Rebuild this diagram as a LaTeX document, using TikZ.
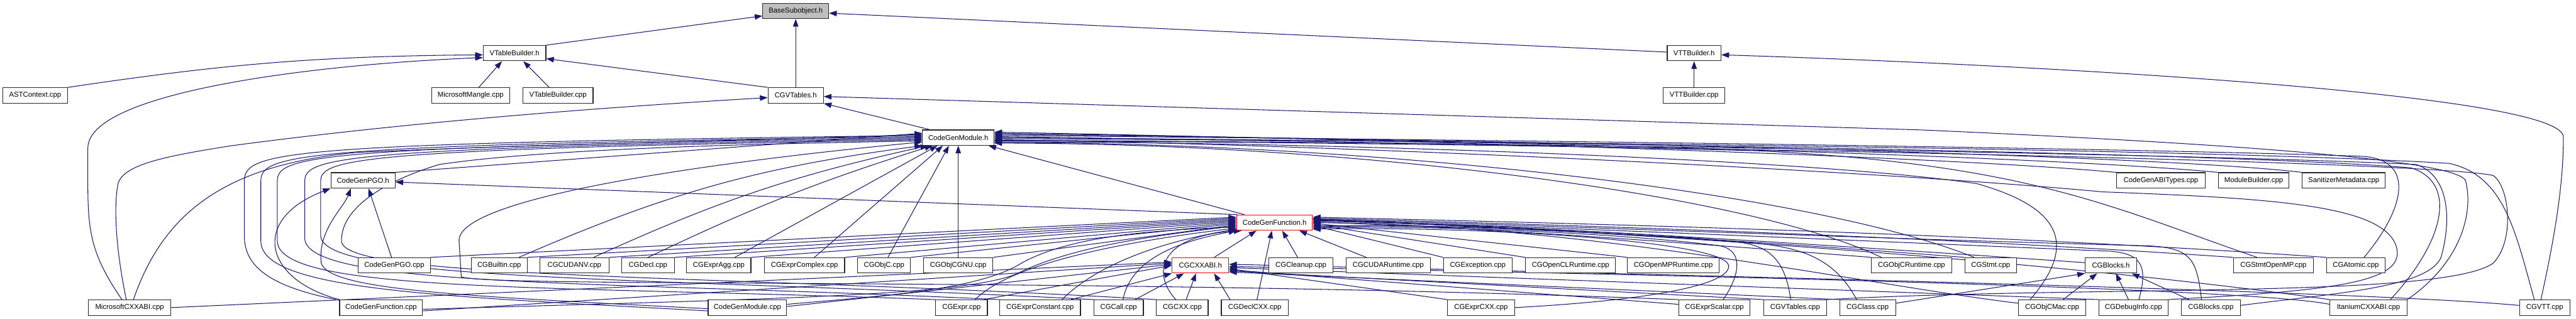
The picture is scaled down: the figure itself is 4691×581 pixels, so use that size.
\documentclass[tikz,border=0pt]{standalone}
\usepackage{fontspec}
\setmainfont{Liberation Sans}
\newfontfamily\doxfont{Liberation Sans}
\usetikzlibrary{arrows.meta,backgrounds}
\definecolor{edgec}{HTML}{191970}
\definecolor{redc}{HTML}{FF0000}
\definecolor{grayc}{HTML}{BFBFBF}
\definecolor{boxc}{HTML}{262626}
\begin{document}
\begin{tikzpicture}[x=1pt,y=-1pt,
  box/.style={draw=boxc,line width=1.3pt,fill=white,minimum height=28,inner sep=1pt,font=\doxfont\fontsize{13}{15}\selectfont},
  rbox/.style={box,draw=redc},
  e/.style={draw=edgec,line width=1.2pt,-{Triangle[length=14pt,width=10pt]}}]
\useasboundingbox (0,0) rectangle (4691,581);
% ---------- nodes
\node[box,fill=grayc,minimum width=120] (bso) at (1449,20) {BaseSubobject.h};
\node[box,minimum width=114] (vtbh) at (937,97) {VTableBuilder.h};
\node[box,minimum width=98] (vttbh) at (3085,97) {VTTBuilder.h};
\node[box,minimum width=118] (astctx) at (64,174) {ASTContext.cpp};
\node[box,minimum width=142] (msmangle) at (857,174) {MicrosoftMangle.cpp};
\node[box,minimum width=128] (vtbcpp) at (1016,174) {VTableBuilder.cpp};
\node[box,minimum width=101] (cgvth) at (1449,174) {CGVTables.h};
\node[box,minimum width=112] (vttcpp) at (3085,174) {VTTBuilder.cpp};
\node[box,minimum width=130] (cgmh) at (1745,251) {CodeGenModule.h};
\node[box,minimum width=117] (pgoh) at (661,329) {CodeGenPGO.h};
\node[box,minimum width=161] (abitypes) at (3935,329) {CodeGenABITypes.cpp};
\node[box,minimum width=129] (modb) at (4104,329) {ModuleBuilder.cpp};
\node[box,minimum width=151] (sanmeta) at (4268,329) {SanitizerMetadata.cpp};
\node[rbox,minimum width=138] (cgfh) at (2321,406) {CodeGenFunction.h};
% row G
\node[box,minimum width=131] (pgocpp) at (718,484) {CodeGenPGO.cpp};
\node[box,minimum width=102] (builtin) at (909,484) {CGBuiltin.cpp};
\node[box,minimum width=126] (cudanv) at (1046,484) {CGCUDANV.cpp};
\node[box,minimum width=96] (decl) at (1180,484) {CGDecl.cpp};
\node[box,minimum width=117] (expragg) at (1309,484) {CGExprAgg.cpp};
\node[box,minimum width=146] (exprcplx) at (1465,484) {CGExprComplex.cpp};
\node[box,minimum width=96] (objc) at (1610,484) {CGObjC.cpp};
\node[box,minimum width=126] (objcgnu) at (1745,484) {CGObjCGNU.cpp};
\node[rbox,minimum width=103] (cxxabih) at (2186,484) {CGCXXABI.h};
\node[box,minimum width=116] (cleanup) at (2369,484) {CGCleanup.cpp};
\node[box,minimum width=154] (cudart) at (2528,484) {CGCUDARuntime.cpp};
\node[box,minimum width=125] (except) at (2691,484) {CGException.cpp};
\node[box,minimum width=164] (openclrt) at (2860,484) {CGOpenCLRuntime.cpp};
\node[box,minimum width=167] (openmprt) at (3047,484) {CGOpenMPRuntime.cpp};
\node[box,minimum width=146] (objcrt) at (3481,484) {CGObjCRuntime.cpp};
\node[box,minimum width=94] (stmt) at (3625,484) {CGStmt.cpp};
\node[box,minimum width=93] (blocksh) at (3844,484) {CGBlocks.h};
\node[box,minimum width=146] (stmtomp) at (4140,484) {CGStmtOpenMP.cpp};
\node[box,minimum width=107] (atomic) at (4290,484) {CGAtomic.cpp};
% row H
\node[box,minimum width=150] (mscxx) at (236,561) {MicrosoftCXXABI.cpp};
\node[box,minimum width=151] (cgfcpp) at (694,561) {CodeGenFunction.cpp};
\node[box,minimum width=143] (cgmcpp) at (1361,561) {CodeGenModule.cpp};
\node[box,minimum width=94] (expr) at (1751,561) {CGExpr.cpp};
\node[box,minimum width=147] (exprconst) at (1894,561) {CGExprConstant.cpp};
\node[box,minimum width=90] (call) at (2037,561) {CGCall.cpp};
\node[box,minimum width=94] (cxx) at (2153,561) {CGCXX.cpp};
\node[box,minimum width=122] (declcxx) at (2285,561) {CGDeclCXX.cpp};
\node[box,minimum width=122] (exprcxx) at (2697,561) {CGExprCXX.cpp};
\node[box,minimum width=130] (exprscalar) at (3122,561) {CGExprScalar.cpp};
\node[box,minimum width=114] (vtcpp) at (3269,561) {CGVTables.cpp};
\node[box,minimum width=102] (cgclass) at (3401,561) {CGClass.cpp};
\node[box,minimum width=123] (objcmac) at (3737,561) {CGObjCMac.cpp};
\node[box,minimum width=126] (debuginfo) at (3885,561) {CGDebugInfo.cpp};
\node[box,minimum width=107] (blockscpp) at (4026,561) {CGBlocks.cpp};
\node[box,minimum width=140] (itanium) at (4313,561) {ItaniumCXXABI.cpp};
\node[box,minimum width=92] (vtt) at (4634,561) {CGVTT.cpp};
% ---------- edges
\begin{pgfonlayer}{background}
\fill[white] (0,0) rectangle (4691,581);
% top part
\draw[e] (vtbh.north east) -- ([yshift=-9]bso.west);
\draw[e] (cgvth.north) -- (bso.south);
\draw[e] ([yshift=2]vttbh.west) -- ([yshift=-4]bso.east);
\draw[e] (astctx.north east) to[bend left=4] ([yshift=-3]vtbh.west);
\draw[e] ([xshift=-14]mscxx.north) .. controls (170,470) and (160,430) .. (160,340) -- (160,270) .. controls (160,170) and (560,118) .. ([yshift=-8]vtbh.west);
\draw[e] ([xshift=15]msmangle.north) -- ([xshift=-23]vtbh.south);
\draw[e] ([xshift=-16]vtbcpp.north) -- ([xshift=16]vtbh.south);
\draw[e] (cgvth.north west) -- ([yshift=-10]vtbh.east);
\draw[e] ([xshift=-6]mscxx.north) .. controls (212,460) and (206,380) .. (215,335) .. controls (225,300) and (300,285) .. (420,266) .. controls (800,215) and (1200,190) .. ([yshift=-4]cgvth.west);
\draw[e] ([xshift=-52]cgmh.north) -- (cgvth.south east);
\draw[e] (itanium.north east) .. controls (4480,480) and (4505,390) .. (4490,330) .. controls (4475,285) and (3900,255) .. (3500,237) -- ([yshift=-2]cgvth.east);
\draw[e] (vttcpp.north) -- (vttbh.south);
\draw[e] ([xshift=-7]vtt.north) .. controls (4655,420) and (4668,330) .. (4668,250) .. controls (4668,170) and (3700,118) .. ([yshift=-3]vttbh.east);
% into CodeGenModule.h, left side
\draw[e] (pgoh.north east) -- ([yshift=8]cgmh.west);
\draw[e] ([xshift=7]mscxx.north) .. controls (300,380) and (420,300) .. (650,278) .. controls (1000,262) and (1400,256) .. ([yshift=6]cgmh.west);
\draw[e] ([xshift=-82]cgfcpp.north) .. controls (480,520) and (445,480) .. (445,430) -- (445,330) .. controls (445,275) and (520,262) .. ([yshift=4]cgmh.west);
\draw[e] ([yshift=-6]cgmcpp.west) .. controls (800,540) and (476,530) .. (475,440) -- (475,330) .. controls (475,280) and (550,265) .. ([yshift=2]cgmh.west);
\draw[e] (expr.north west) .. controls (1000,520) and (508,535) .. (505,440) -- (505,330) .. controls (505,283) and (580,268) .. (cgmh.west);
\draw[e] (exprconst.north west) .. controls (1100,512) and (558,525) .. (555,435) -- (555,330) .. controls (555,286) and (630,270) .. ([yshift=-2]cgmh.west);
\draw[e] (call.north west) .. controls (1200,505) and (586,515) .. (584,430) -- (584,330) .. controls (584,289) and (660,272) .. ([yshift=-4]cgmh.west);
\draw[e] (cxx.north west) .. controls (1300,500) and (625,510) .. (622,440) .. controls (620,380) and (700,330) .. (800,300) .. controls (1000,270) and (1400,262) .. ([yshift=-6]cgmh.west);
\draw[e] (exprscalar.north west) .. controls (2000,505) and (900,525) .. (840,505) -- (836,440) .. controls (830,360) and (1300,295) .. ([yshift=-8]cgmh.west);
% into CodeGenModule.h, bottom
\draw[e] ([xshift=36]builtin.north) to[bend left=8] (cgmh.south west);
\draw[e] ([xshift=35]cudanv.north) to[bend left=6] ([xshift=-55]cgmh.south);
\draw[e] (decl.north) to[bend left=4] ([xshift=-47]cgmh.south);
\draw[e] ([xshift=29]expragg.north) -- ([xshift=-38]cgmh.south);
\draw[e] ([xshift=18]exprcplx.north) -- ([xshift=-28]cgmh.south);
\draw[e] ([xshift=7]objc.north) -- ([xshift=-17]cgmh.south);
\draw[e] (objcgnu.north) -- (cgmh.south);
\draw[e] ([xshift=-55]cgfh.north) -- ([xshift=55]cgmh.south);
% into CodeGenModule.h, right side
\draw[e] (abitypes.north west) .. controls (3500,282) and (2500,254) .. ([yshift=10]cgmh.east);
\draw[e] (modb.north west) .. controls (3700,282) and (2600,254) .. ([yshift=8]cgmh.east);
\draw[e] (sanmeta.north west) .. controls (3900,280) and (2700,254) .. ([yshift=6]cgmh.east);
\draw[e] ([xshift=15]atomic.north) .. controls (4380,380) and (4400,290) .. (4300,285) .. controls (3800,268) and (2600,254) .. ([yshift=4]cgmh.east);
\draw[e] ([xshift=-30]stmtomp.north) .. controls (3850,380) and (3700,300) .. (3200,275) .. controls (2700,262) and (2200,255) .. ([yshift=2]cgmh.east);
\draw[e] ([xshift=40]itanium.north) .. controls (4460,430) and (4470,330) .. (4390,306) .. controls (4000,275) and (2600,256) .. (cgmh.east);
\draw[e] ([xshift=-19]vtt.north) .. controls (4580,420) and (4560,320) .. (4460,298) .. controls (4000,270) and (2600,256) .. ([yshift=-2]cgmh.east);
\draw[e] (debuginfo.north east) .. controls (4250,530) and (4375,515) .. (4365,455) .. controls (4350,375) and (4150,362) .. (3830,350) .. controls (3400,310) and (2400,262) .. ([yshift=-4]cgmh.east);
\draw[e] ([yshift=4]blockscpp.east) .. controls (4250,535) and (4420,525) .. (4445,470) .. controls (4465,400) and (4460,320) .. (4400,300) .. controls (4000,280) and (2600,258) .. ([yshift=-5]cgmh.east);
\draw[e] (vtcpp.north east) .. controls (3800,520) and (4450,545) .. (4540,480) .. controls (4580,440) and (4570,340) .. (4540,320) .. controls (4400,290) and (2600,258) .. ([yshift=-6]cgmh.east);
\draw[e] ([xshift=-40]objcmac.north) .. controls (3780,450) and (3760,380) .. (3600,335) .. controls (3300,290) and (2400,258) .. ([yshift=-8]cgmh.east);
\draw[e] ([xshift=-30]stmt.north) .. controls (3300,350) and (2500,260) .. ([yshift=-9]cgmh.east);
\draw[e] ([xshift=-55]objcrt.north) .. controls (3200,360) and (2500,262) .. ([yshift=-10]cgmh.east);
% into CodeGenPGO.h
\draw[e] ([xshift=-5]pgocpp.north) -- ([xshift=10]pgoh.south);
\draw[e] ([xshift=-68]cgfh.north) -- ([yshift=-3]pgoh.east);
\draw[e] ([xshift=-76]cgfcpp.north) .. controls (480,510) and (455,400) .. (pgoh.south west);
\draw[e] ([yshift=-2]cgmcpp.west) .. controls (850,540) and (600,530) .. (585,480) .. controls (578,420) and (625,380) .. ([xshift=-22]pgoh.south);
% into CodeGenFunction.h, left side
\draw[e] (pgocpp.north east) -- ([yshift=10]cgfh.west);
\draw[e] (builtin.north east) -- ([yshift=8]cgfh.west);
\draw[e] (cudanv.north east) -- ([yshift=6]cgfh.west);
\draw[e] (decl.north east) -- ([yshift=4]cgfh.west);
\draw[e] (expragg.north east) -- ([yshift=2]cgfh.west);
\draw[e] (exprcplx.north east) -- (cgfh.west);
\draw[e] (objc.north east) -- ([yshift=-2]cgfh.west);
\draw[e] (objcgnu.north east) -- ([yshift=-4]cgfh.west);
\draw[e] ([yshift=-3]cgfcpp.east) .. controls (1400,545) and (1750,540) .. (1850,500) .. controls (1950,450) and (2100,430) .. ([yshift=-6]cgfh.west);
\draw[e] ([yshift=6]cgmcpp.east) .. controls (1600,540) and (1780,530) .. (1860,480) .. controls (1950,430) and (2100,420) .. ([yshift=-8]cgfh.west);
\draw[e] ([xshift=25]expr.north) .. controls (1840,480) and (2050,440) .. ([yshift=-10]cgfh.west);
\draw[e] ([xshift=40]exprconst.north) .. controls (2000,480) and (2120,440) .. ([yshift=-12]cgfh.west);
\draw[e] ([xshift=8]call.north) .. controls (2060,470) and (2150,440) .. (cgfh.south west);
\draw[e] ([xshift=-12]cxx.north) .. controls (2095,495) and (2115,430) .. ([xshift=-60]cgfh.south);
% into CodeGenFunction.h, bottom
\draw[e] ([xshift=4]declcxx.north) -- ([xshift=-5]cgfh.south);
\draw[e] ([xshift=25]cxxabih.north) -- ([xshift=-33]cgfh.south);
\draw[e] ([xshift=-6]cleanup.north) -- ([xshift=14]cgfh.south);
\draw[e] ([xshift=-40]cudart.north) -- ([xshift=45]cgfh.south);
% into CodeGenFunction.h, right side
\draw[e] (except.north west) -- ([yshift=-5]cgfh.east);
\draw[e] (openclrt.north west) -- ([yshift=-3]cgfh.east);
\draw[e] (openmprt.north west) -- ([yshift=-1]cgfh.east);
\draw[e] (objcrt.north west) .. controls (3100,445) and (2700,415) .. ([yshift=1]cgfh.east);
\draw[e] (stmt.north west) .. controls (3200,440) and (2750,412) .. ([yshift=3]cgfh.east);
\draw[e] ([yshift=5]blocksh.west) .. controls (3300,445) and (2800,412) .. ([yshift=5]cgfh.east);
\draw[e] (stmtomp.north west) .. controls (3500,430) and (2850,410) .. ([yshift=8]cgfh.east);
\draw[e] (atomic.north west) .. controls (3600,425) and (2900,408) .. ([yshift=10]cgfh.east);
\draw[e] (exprcxx.east) .. controls (3000,548) and (3150,520) .. (3148,485) .. controls (3146,440) and (2700,412) .. ([yshift=-12]cgfh.east);
\draw[e] ([xshift=16]exprscalar.north) .. controls (3170,500) and (3175,455) .. (3130,448) .. controls (2950,425) and (2600,410) .. ([yshift=-10]cgfh.east);
\draw[e] ([xshift=-8]vtcpp.north) .. controls (3250,470) and (3220,445) .. (3150,440) .. controls (2950,420) and (2600,408) .. ([yshift=-8]cgfh.east);
\draw[e] ([xshift=-20]cgclass.north) .. controls (3340,470) and (3280,450) .. (3180,442) .. controls (2950,425) and (2600,408) .. ([yshift=-6]cgfh.east);
\draw[e] ([yshift=8]objcmac.west) .. controls (3400,520) and (2900,410) .. (cgfh.east);
\draw[e] ([xshift=10]debuginfo.north) .. controls (3910,490) and (3905,462) .. (3840,458) .. controls (3400,440) and (2800,412) .. ([yshift=4]cgfh.east);
\draw[e] ([xshift=-17]blockscpp.north) .. controls (4000,470) and (3990,450) .. (3900,448) .. controls (3400,435) and (2800,410) .. ([yshift=6]cgfh.east);
\draw[e] (itanium.north west) .. controls (3700,470) and (2900,420) .. ([yshift=7]cgfh.east);
% into CGCXXABI.h
\draw[e] (mscxx.east) -- ([yshift=6]cxxabih.west);
\draw[e] ([yshift=-6]cgfcpp.east) -- ([yshift=4]cxxabih.west);
\draw[e] ([yshift=2]cgmcpp.east) -- ([yshift=2]cxxabih.west);
\draw[e] ([xshift=40]expr.north) -- (cxxabih.west);
\draw[e] ([xshift=56]exprconst.north) -- (cxxabih.south west);
\draw[e] ([xshift=30]call.north) -- ([xshift=-30]cxxabih.south);
\draw[e] ([xshift=7]cxx.north) -- ([xshift=-8]cxxabih.south);
\draw[e] ([xshift=-45]declcxx.north) -- ([xshift=25]cxxabih.south);
\draw[e] (exprcxx.north west) -- ([yshift=-6]cxxabih.east);
\draw[e] ([yshift=6]exprscalar.west) -- ([yshift=-8]cxxabih.east);
\draw[e] (vtcpp.north west) -- ([yshift=-10]cxxabih.east);
\draw[e] (cgclass.north west) -- ([yshift=-12]cxxabih.east);
\draw[e] (debuginfo.north west) -- ([yshift=-4]cxxabih.east);
\draw[e] ([yshift=6]itanium.west) .. controls (4100,525) and (3000,500) .. ([yshift=-2]cxxabih.east);
\draw[e] ([yshift=4]vtt.west) .. controls (4300,530) and (3000,500) .. ([yshift=2]cxxabih.east);
% into CGBlocks.h
\draw[e] ([yshift=8]cgclass.east) -- (blocksh.south west);
\draw[e] ([xshift=20]objcmac.north) -- ([xshift=-25]blocksh.south);
\draw[e] ([xshift=-9]debuginfo.north) -- ([xshift=9]blocksh.south);
\draw[e] ([xshift=-40]blockscpp.north) -- ([xshift=38]blocksh.south);
\end{pgfonlayer}
\end{tikzpicture}
\end{document}
